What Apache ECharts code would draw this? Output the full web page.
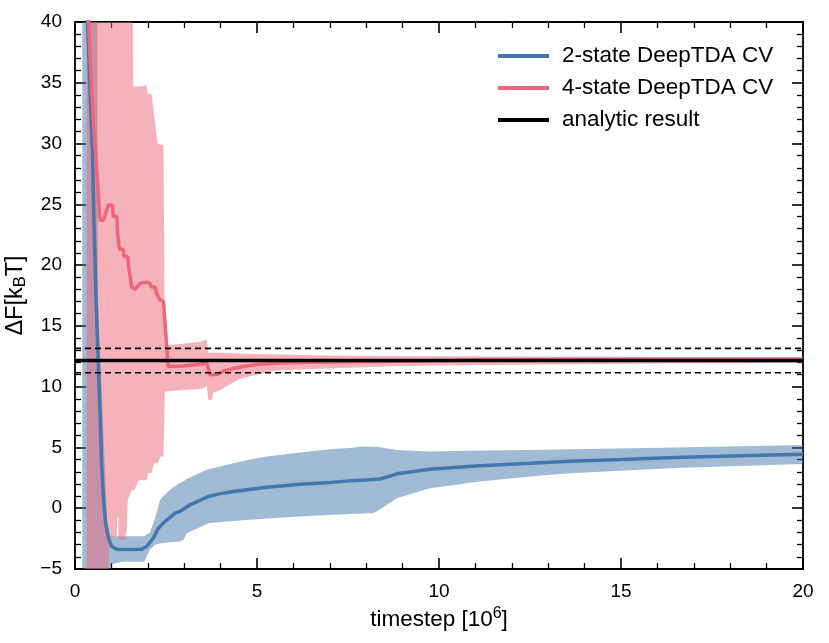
<!DOCTYPE html>
<html>
<head>
<meta charset="utf-8">
<script src="https://cdn.jsdelivr.net/npm/echarts@6/dist/echarts.min.js"></script>
<style>
html,body{margin:0;padding:0;background:#fff;}
#chart{width:829px;height:643px;}
</style>
</head>
<body>
<div id="chart"></div>
<script>
// ---- data (timestep in 10^6, ΔF in kBT) ----
const blueX = [0.2, 0.34, 0.41, 0.48, 0.52, 0.58, 0.64, 0.69, 0.73, 0.78, 0.84, 0.92, 1.01, 1.15, 1.5, 1.83, 1.97, 2.15, 2.29, 2.47, 2.75, 2.88, 3.16, 3.4, 3.66, 4.0, 4.35, 5.27, 6.18, 7.0, 7.55, 8.0, 8.38, 8.6, 8.84, 9.3, 9.75, 10.4, 11.13, 12.5, 13.6, 15, 16.5, 18, 20];
const blueY = [52, 40.2, 34.7, 29.2, 23.7, 17.1, 11.9, 7.8, 3.7, 0.96, -1.2, -2.46, -3.15, -3.37, -3.4, -3.37, -3.15, -2.46, -1.64, -1.1, -0.4, -0.27, 0.28, 0.6, 0.96, 1.2, 1.37, 1.73, 1.98, 2.12, 2.25, 2.32, 2.4, 2.6, 2.83, 3.02, 3.2, 3.35, 3.5, 3.7, 3.87, 4.0, 4.17, 4.3, 4.44];

const blueBandX = [0.2, 0.6, 0.63, 0.8, 0.88, 0.95, 1.0, 1.3, 1.6, 1.9, 2.06, 2.2, 2.34, 2.43, 2.61, 2.88, 2.98, 3.07, 3.62, 3.66, 4.35, 4.8, 5.27, 6.18, 7.0, 7.55, 7.92, 8.2, 8.38, 8.84, 9.75, 11.13, 12.5, 13.6, 16.5, 20];
const blueLow  = [-20, -20, -20, -20, -20, -6, -4.6, -4.4, -4.4, -4.4, -3.4, -3.0, -2.9, -2.87, -2.8, -2.74, -2.6, -2.05, -1.3, -1.23, -1.05, -0.95, -0.85, -0.68, -0.55, -0.48, -0.43, -0.4, -0.1, 0.83, 1.65, 2.2, 2.6, 2.88, 3.3, 3.63];
const blueHigh = [60, 60, 17, 5, -1, -2.2, -2.3, -2.3, -2.3, -2.3, -2.0, -0.8, 0.69, 1.0, 1.51, 2.1, 2.2, 2.4, 3.16, 3.2, 3.71, 4.0, 4.25, 4.58, 4.86, 4.95, 5.07, 5.05, 5.02, 4.8, 4.66, 4.75, 4.8, 4.86, 5.0, 5.21];

const redX = [0.32, 0.37, 0.41, 0.5, 0.6, 0.69, 0.78, 0.87, 0.92, 1.03, 1.05, 1.15, 1.17, 1.22, 1.33, 1.35, 1.45, 1.47, 1.56, 1.65, 1.79, 1.97, 2.06, 2.1, 2.2, 2.24, 2.32, 2.43, 2.56, 2.61, 2.98, 3.3, 3.62, 3.71, 3.89, 4.1, 4.35, 4.7, 5.08, 5.63, 6.5, 7.5, 9, 11, 14, 17, 20];
const redY = [44, 40.2, 37.4, 31.9, 27.8, 23.7, 23.7, 24.5, 24.95, 24.95, 24.0, 24.0, 22.6, 21.3, 21.3, 20.7, 20.7, 19.9, 18.2, 18.0, 18.5, 18.6, 18.5, 18.2, 18.2, 17.7, 17.2, 17.0, 11.65, 11.6, 11.7, 11.8, 11.95, 10.97, 11.0, 11.3, 11.5, 11.7, 11.85, 11.95, 12.0, 12.05, 12.1, 12.2, 12.25, 12.25, 12.25];

const redBandX = [0.32, 0.9, 0.96, 1.15, 1.16, 1.19, 1.2, 1.37, 1.42, 1.45, 1.56, 1.6, 1.63, 1.75, 1.97, 2.0, 2.1, 2.18, 2.27, 2.35, 2.43, 2.47, 2.9, 3.43, 3.6, 3.62, 3.66, 3.76, 3.8, 3.98, 4.26, 4.5, 5.0, 5.6, 7.0, 8.5, 10, 12, 16, 20];
const redLow  = [-20, -6, -2.4, -2.3, -0.7, -0.7, -2.6, -2.6, -1.8, 0.7, 1.5, 1.5, 1.5, 2.3, 2.3, 2.9, 2.9, 3.7, 3.7, 4.25, 4.25, 9.6, 9.7, 9.8, 10.0, 10.1, 8.9, 8.9, 9.47, 9.7, 10.2, 10.6, 11.0, 11.35, 11.5, 11.65, 11.75, 11.8, 11.9, 11.95];
const redHigh = [60, 60, 60, 60, 60, 60, 60, 60, 60, 60, 60, 34.7, 34.7, 34.7, 34.8, 34.1, 34.1, 32.2, 30.0, 29.9, 29.9, 13.4, 13.5, 13.7, 13.85, 13.85, 12.8, 12.8, 12.8, 12.8, 12.75, 12.72, 12.68, 12.65, 12.56, 12.52, 12.5, 12.48, 12.45, 12.45];

const analyticValue = 12.15;
const analyticErr = 1.0;
const xRange = [0, 20];
const yRange = [-5, 40];
const xTicks = [0, 5, 10, 15, 20];
const yTicks = [-5, 0, 5, 10, 15, 20, 25, 30, 35, 40];

const seriesNames = ['2-state DeepTDA CV', '4-state DeepTDA CV', 'analytic result'];
const blue = '#4477AA', red = '#EE6677';
const FONT = 'Liberation Sans';

function pairs(xs, ys) { return xs.map((x, i) => [x, ys[i]]); }

// band polygon drawn through the axis scales (api.coord), clipped to the grid
function bandSeries(xs, lo, hi, color, z) {
  return {
    type: 'custom', silent: true, z: z,
    data: [[xs[0], lo[0]]],
    renderItem: function (params, api) {
      const pts = [];
      for (let i = 0; i < xs.length; i++) pts.push(api.coord([xs[i], hi[i]]));
      for (let i = xs.length - 1; i >= 0; i--) pts.push(api.coord([xs[i], lo[i]]));
      const cs = params.coordSys;
      return {
        type: 'polygon',
        shape: {points: pts},
        style: {fill: color, opacity: 0.5},
        clipPath: {type: 'rect', shape: {x: cs.x, y: cs.y, width: cs.width, height: cs.height}}
      };
    }
  };
}

const chart = echarts.init(document.getElementById('chart'), null, {renderer: 'canvas'});

const baseAxis = {
  axisLine: {show: true, onZero: false, lineStyle: {color: '#000', width: 1.8}},
  axisTick: {show: true, inside: true, length: 11, lineStyle: {color: '#000', width: 1.6}},
  minorTick: {show: true, splitNumber: 5, length: 6, lineStyle: {color: '#000', width: 1.3}},
  splitLine: {show: false},
  minorSplitLine: {show: false}
};
const minus = v => String(v).replace('-', '\u2212');

const option = {
  animation: false,
  backgroundColor: '#fff',
  textStyle: {fontFamily: FONT},
  grid: {left: 75, right: 26, top: 22, bottom: 74, containLabel: false, outerBoundsMode: 'none'},
  legend: {
    data: seriesNames,
    orient: 'vertical',
    left: 493, top: 38,
    icon: 'rect',
    itemWidth: 51, itemHeight: 4,
    itemGap: 6,
    textStyle: {fontFamily: FONT, fontSize: 22.5, color: '#000', padding: [0, 0, 0, 8], lineHeight: 26}
  },
  xAxis: [
    Object.assign({}, baseAxis, {
      type: 'value', min: xRange[0], max: xRange[1], interval: 5, position: 'bottom',
      axisLabel: {show: true, color: '#000', fontSize: 19, fontFamily: FONT, margin: 13,
        formatter: v => xTicks.includes(v) ? minus(v) : ''},
      name: 'timestep [10{sup|6}]', nameLocation: 'middle', nameGap: 26,
      nameTextStyle: {color: '#000', fontSize: 22.5, fontFamily: FONT,
        rich: {sup: {fontSize: 16, fontFamily: FONT, color: '#000', padding: [0, 0, 12, 0]}}}
    }),
    Object.assign({}, baseAxis, {
      type: 'value', min: xRange[0], max: xRange[1], interval: 5, position: 'top',
      axisLabel: {show: false}
    })
  ],
  yAxis: [
    Object.assign({}, baseAxis, {
      type: 'value', min: yRange[0], max: yRange[1], interval: 5, position: 'left',
      axisLabel: {show: true, color: '#000', fontSize: 19, fontFamily: FONT, margin: 13,
        formatter: v => yTicks.includes(v) ? minus(v) : ''},
      name: '\u0394F[k{sub|B}T]', nameLocation: 'middle', nameGap: 42,
      nameTextStyle: {color: '#000', fontSize: 23.5, fontFamily: FONT,
        rich: {sub: {fontSize: 16.5, fontFamily: FONT, color: '#000', padding: [10, 0, 0, 0]}}}
    }),
    Object.assign({}, baseAxis, {
      type: 'value', min: yRange[0], max: yRange[1], interval: 5, position: 'right',
      axisLabel: {show: false}
    })
  ],
  series: [
    bandSeries(blueBandX, blueLow, blueHigh, blue, 1),
    bandSeries(redBandX, redLow, redHigh, red, 2),
    {type: 'line', name: seriesNames[0], data: pairs(blueX, blueY), symbol: 'none', clip: true,
      itemStyle: {color: blue}, lineStyle: {color: blue, width: 3.5}, z: 3},
    {type: 'line', name: seriesNames[1], data: pairs(redX, redY), symbol: 'none', clip: true,
      itemStyle: {color: red}, lineStyle: {color: red, width: 3.5}, z: 4},
    {type: 'line', name: seriesNames[2], data: [[xRange[0], analyticValue], [xRange[1], analyticValue]], symbol: 'none',
      itemStyle: {color: '#000'}, lineStyle: {color: '#000', width: 3.5}, z: 5},
    {type: 'line', name: 'analyticUpper', data: [[xRange[0], analyticValue + analyticErr], [xRange[1], analyticValue + analyticErr]], symbol: 'none',
      itemStyle: {color: '#000'}, lineStyle: {color: '#000', width: 1.6, type: [6, 4]}, z: 5},
    {type: 'line', name: 'analyticLower', data: [[xRange[0], analyticValue - analyticErr], [xRange[1], analyticValue - analyticErr]], symbol: 'none',
      itemStyle: {color: '#000'}, lineStyle: {color: '#000', width: 1.6, type: [6, 4]}, z: 5}
  ]
};
chart.setOption(option);
</script>
</body>
</html>
